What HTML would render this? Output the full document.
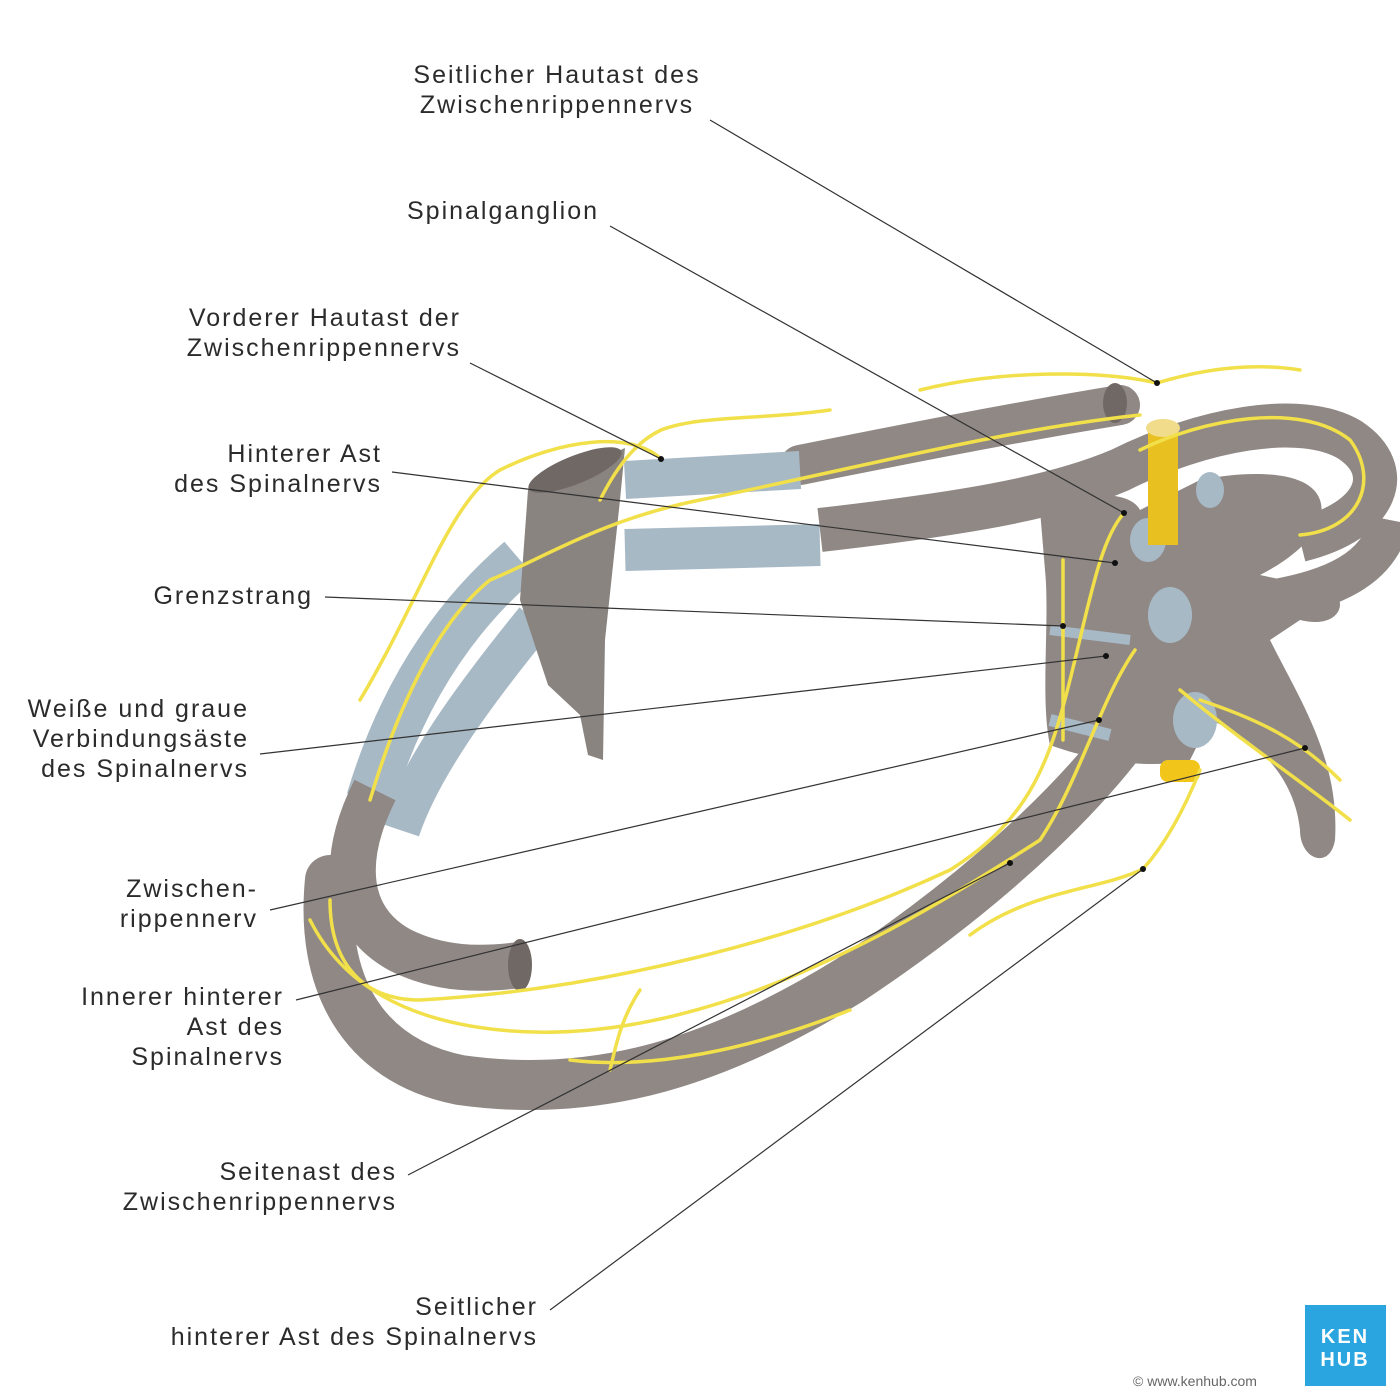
<!DOCTYPE html>
<html><head><meta charset="utf-8"><style>
html,body{margin:0;padding:0;background:#fff}
svg{display:block}
text{font-family:"Liberation Sans",sans-serif;font-size:25px;letter-spacing:2px;fill:#2b2b2b}
</style></head><body>
<svg width="1400" height="1400" viewBox="0 0 1400 1400" xmlns="http://www.w3.org/2000/svg">
<path d="M1120,405 C1000,425 900,445 800,465" stroke="#8f8884" stroke-width="40" fill="none" stroke-linecap="round"/>
<path d="M1300,540 C1380,520 1395,470 1350,440 C1300,410 1200,430 1120,470 C1050,500 950,515 820,530" stroke="#8f8884" stroke-width="44" fill="none"/>
<path d="M800,470 L625,480" stroke="#a8b9c6" stroke-width="38" fill="none"/>
<path d="M820,545 L625,550" stroke="#a8b9c6" stroke-width="42" fill="none"/>
<path d="M520,560 C450,620 400,700 370,800" stroke="#a8b9c6" stroke-width="48" fill="none"/>
<path d="M535,620 C470,700 420,770 400,830" stroke="#a8b9c6" stroke-width="40" fill="none"/>
<path d="M1150,700 C1100,780 1000,880 850,980 C720,1060 600,1100 460,1080 C360,1060 320,980 330,880" stroke="#8f8884" stroke-width="50" fill="none" stroke-linecap="round"/>
<path d="M375,790 C340,860 345,920 400,950 C440,970 480,970 520,965" stroke="#8f8884" stroke-width="46" fill="none"/>
<ellipse cx="520" cy="965" rx="12" ry="26" fill="#6f6865"/>
<ellipse cx="1115" cy="403" rx="12" ry="20" fill="#6f6865"/>
<path d="M1270,600 C1330,590 1380,570 1390,520" stroke="#8f8884" stroke-width="40" fill="none"/>
<polygon points="528,490 625,448 620,500 605,640 603,760 588,755 580,715 548,685 520,600" fill="#8a8480"/>
<ellipse cx="575" cy="470" rx="50" ry="14" fill="#6f6865" transform="rotate(-22 575 470)"/>
<path d="M1040,510 C1080,490 1130,490 1140,510 L1200,480 C1250,470 1310,470 1320,500 C1330,530 1290,560 1260,575 L1330,590 C1350,600 1340,630 1300,620 L1270,640 C1300,700 1340,760 1335,840 C1330,870 1300,860 1300,830 C1295,780 1260,740 1210,720 L1190,760 C1150,770 1090,760 1050,745 C1040,700 1050,620 1045,570 Z" fill="#8f8884"/>
<path d="M1050,630 L1130,640" stroke="#a8b9c6" stroke-width="10"/>
<path d="M1050,720 L1110,735" stroke="#a8b9c6" stroke-width="12"/>
<ellipse cx="1170" cy="615" rx="22" ry="28" fill="#a8b9c6"/>
<ellipse cx="1148" cy="540" rx="18" ry="22" fill="#a8b9c6"/>
<ellipse cx="1210" cy="490" rx="14" ry="18" fill="#a8b9c6"/>
<ellipse cx="1195" cy="720" rx="22" ry="28" fill="#a8b9c6"/>
<rect x="1148" y="425" width="30" height="120" fill="#e8c020"/>
<ellipse cx="1163" cy="428" rx="17" ry="9" fill="#f0dc8a"/>
<rect x="1160" y="760" width="40" height="22" rx="8" fill="#f2c51a"/>
<g stroke="#f2e04a" stroke-width="3.5" fill="none" stroke-linecap="round">
<path d="M920,390 C1000,370 1100,370 1157,383 C1200,370 1250,362 1300,370"/>
<path d="M1124,513 C1100,540 1090,600 1070,680 C1050,760 1030,820 950,870 C800,940 600,990 420,1000 C360,1000 330,960 330,900"/>
<path d="M1135,650 C1100,700 1080,780 1040,840 C900,930 700,1050 500,1030 C400,1020 340,980 310,920"/>
<path d="M1063,560 L1063,740"/>
<path d="M1140,450 C1200,420 1300,400 1350,440 C1380,480 1360,530 1300,535"/>
<path d="M1140,415 C1000,430 850,470 700,500 C600,520 540,560 490,580 C440,620 400,700 370,800"/>
<path d="M830,410 C760,420 700,415 661,430 C640,440 620,460 600,500"/>
<path d="M661,459 C630,430 560,440 500,470 C450,500 420,600 360,700"/>
<path d="M1200,700 C1260,720 1300,740 1340,780"/>
<path d="M1180,690 C1240,740 1300,780 1350,820"/>
<path d="M1143,869 C1100,890 1030,890 970,935"/>
<path d="M1200,770 C1180,820 1160,850 1143,869"/>
<path d="M850,1010 C750,1050 650,1070 570,1060"/>
<path d="M640,990 C620,1020 615,1050 610,1070"/>
</g>
<g stroke="#333" stroke-width="1.2">
<line x1="710" y1="120" x2="1157" y2="383"/>
<line x1="610" y1="226" x2="1124" y2="513"/>
<line x1="470" y1="363" x2="661" y2="459"/>
<line x1="392" y1="472" x2="1115" y2="563"/>
<line x1="325" y1="597" x2="1063" y2="626"/>
<line x1="260" y1="754" x2="1106" y2="656"/>
<line x1="270" y1="910" x2="1099" y2="720"/>
<line x1="296" y1="1000" x2="1305" y2="748"/>
<line x1="408" y1="1175" x2="1010" y2="863"/>
<line x1="550" y1="1310" x2="1143" y2="869"/>
</g>
<g fill="#111">
<circle cx="1157" cy="383" r="3"/><circle cx="1124" cy="513" r="3"/><circle cx="661" cy="459" r="3"/>
<circle cx="1115" cy="563" r="3"/><circle cx="1063" cy="626" r="3"/><circle cx="1106" cy="656" r="3"/>
<circle cx="1099" cy="720" r="3"/><circle cx="1305" cy="748" r="3"/><circle cx="1010" cy="863" r="3"/>
<circle cx="1143" cy="869" r="3"/>
</g>
<text x="557" y="83" text-anchor="middle">Seitlicher Hautast des</text>
<text x="557" y="113" text-anchor="middle">Zwischenrippennervs</text>
<text x="503" y="219" text-anchor="middle">Spinalganglion</text>
<g text-anchor="end">
<text x="461" y="326">Vorderer Hautast der</text>
<text x="461" y="356">Zwischenrippennervs</text>
<text x="382" y="462">Hinterer Ast</text>
<text x="382" y="492">des Spinalnervs</text>
<text x="313" y="604">Grenzstrang</text>
<text x="249" y="717">Weiße und graue</text>
<text x="249" y="747">Verbindungsäste</text>
<text x="249" y="777">des Spinalnervs</text>
<text x="258" y="897">Zwischen-</text>
<text x="258" y="927">rippennerv</text>
<text x="284" y="1005">Innerer hinterer</text>
<text x="284" y="1035">Ast des</text>
<text x="284" y="1065">Spinalnervs</text>
<text x="397" y="1180">Seitenast des</text>
<text x="397" y="1210">Zwischenrippennervs</text>
<text x="538" y="1315">Seitlicher</text>
<text x="538" y="1345">hinterer Ast des Spinalnervs</text>
</g>
<rect x="1305" y="1305" width="81" height="81" fill="#2aa5e0"/>
<text x="1345" y="1343" text-anchor="middle" style="fill:#fff;font-size:20px;font-weight:bold;letter-spacing:2px">KEN</text>
<text x="1345" y="1366" text-anchor="middle" style="fill:#fff;font-size:20px;font-weight:bold;letter-spacing:2px">HUB</text>
<text x="1195" y="1386" text-anchor="middle" style="font-size:14px;letter-spacing:0;fill:#666">© www.kenhub.com</text>
</svg>
</body></html>
